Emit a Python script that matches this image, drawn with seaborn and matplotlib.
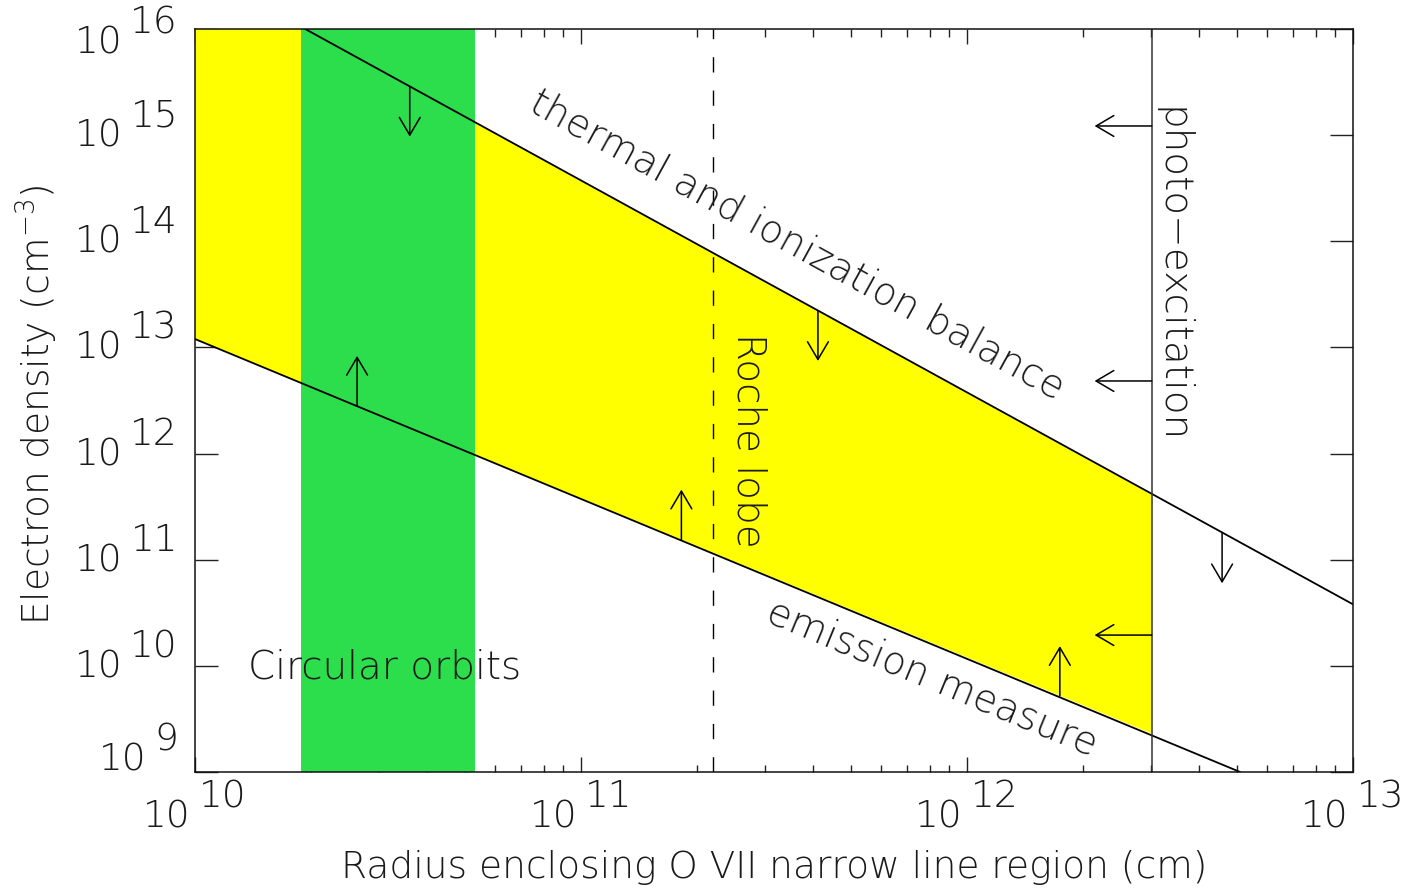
import numpy as np
import pandas as pd
import matplotlib
matplotlib.use("Agg")
import matplotlib.pyplot as plt
import seaborn as sns
from matplotlib.ticker import LogLocator, NullLocator, NullFormatter

# limits: radius (cm) vs electron density (cm^-3)
thermal_r = [1.93e10, 1e13]
thermal_n = [1e16, 3.8e10]
emission_r = [1e10, 5.1e12]
emission_n = [1.2e13, 1e9]

allowed_r = [1e10, 1.93e10, 3.01e12, 3.01e12, 1e10]
allowed_n = [1e16, 1e16, 4.1e11, 2.3e9, 1.2e13]

orbit_r = [1.88e10, 5.3e10]
roche_r = 2.2e11
photo_r = 3.01e12

down_r = [3.6e10, 4.11e11, 4.58e12]
down_n = [2.86e15, 2.2e13, 1.77e11]
up_r = [2.63e10, 1.82e11, 1.74e12]
up_n = [2.82e12, 1.55e11, 5.2e9]
left_n = [1.22e15, 4.83e12, 1.95e10]

x_exps = [10, 11, 12, 13]
y_exps = [9, 10, 11, 12, 13, 14, 15, 16]

sns.set_style("ticks")
plt.rcParams['font.family'] = ['DejaVu Sans']
plt.rcParams['font.weight'] = 'light'
plt.rcParams['mathtext.fontset'] = 'custom'
plt.rcParams['mathtext.default'] = 'regular'
txt = '#1a1a1a'

fig = plt.figure(figsize=(14.24, 8.95), dpi=100)
ax = fig.add_axes([195/1424, 1-773/895, (1353-195)/1424, (773-30)/895])
ax.set_xscale('log')
ax.set_yscale('log')
ax.set_xlim(1e10, 1e13)
ax.set_ylim(1e9, 1e16)

ax.fill(allowed_r, allowed_n, color='#ffff00', lw=0, zorder=1)
ax.axvspan(orbit_r[0], orbit_r[1], color='#2cdd4c', lw=0, zorder=2)

lines = pd.DataFrame({
    'r': thermal_r + emission_r,
    'n': thermal_n + emission_n,
    'limit': ['thermal'] * 2 + ['emission'] * 2,
})
sns.lineplot(data=lines, x='r', y='n', units='limit', estimator=None,
             color='black', lw=1.3, sort=False, ax=ax, zorder=4)
ax.set_xlabel('')
ax.set_ylabel('')

ax.axvline(roche_r, color='black', lw=1.0, ls=(0, (11, 13)), zorder=4)
ax.axvline(photo_r, color='#333333', lw=1.1, zorder=4)

arrow = dict(arrowstyle='->,head_length=0.85,head_width=0.5', lw=1.1,
             color='black', shrinkA=0, shrinkB=0, mutation_scale=15)
for r, n in zip(down_r, down_n):
    ax.annotate('', xy=(r, n / 10**0.47), xytext=(r, n), arrowprops=arrow, zorder=5)
for r, n in zip(up_r, up_n):
    ax.annotate('', xy=(r, n * 10**0.47), xytext=(r, n), arrowprops=arrow, zorder=5)
for n in left_n:
    ax.annotate('', xy=(photo_r / 10**0.148, n), xytext=(photo_r, n), arrowprops=arrow, zorder=5)

# labels along the limits
def slope_angle(r, n):
    p = ax.transData.transform(list(zip(r, n)))
    return np.degrees(np.arctan2(p[1, 1] - p[0, 1], p[1, 0] - p[0, 0]))

fs = 28
ax.text(10**11.56, 10**13.97, 'thermal and ionization balance', fontsize=fs,
        rotation=slope_angle(thermal_r, thermal_n), rotation_mode='anchor',
        ha='center', va='center', color=txt, zorder=6)
ax.text(10**11.909, 10**9.895, 'emission measure', fontsize=fs,
        rotation=slope_angle(emission_r, emission_n), rotation_mode='anchor',
        ha='center', va='center', color=txt, zorder=6)
ax.text(10**11.435, 10**12.137, 'Roche lobe', fontsize=fs, rotation=-90,
        ha='center', va='center', color=txt, zorder=6)
ax.text(10**12.53, 10**13.69, 'photo\u2212excitation', fontsize=fs, rotation=-90,
        ha='center', va='center', color=txt, zorder=6)
ax.text(10**10.49, 10**9.99, 'Circular orbits', fontsize=fs,
        ha='center', va='center', color=txt, zorder=6)

# ticks
ax.set_xticks([10.0**e for e in x_exps])
ax.set_yticks([10.0**e for e in y_exps])
ax.xaxis.set_minor_locator(LogLocator(base=10, subs=np.arange(2, 10), numticks=20))
ax.xaxis.set_minor_formatter(NullFormatter())
ax.yaxis.set_minor_locator(NullLocator())
ax.tick_params(axis='both', which='both', direction='in', top=True, right=True,
               labelbottom=False, labelleft=False, color='#222222', width=1.0)
ax.tick_params(axis='x', which='major', length=11)
ax.tick_params(axis='x', which='minor', length=5.4)
ax.tick_params(axis='y', which='major', length=16.5)
for s in ax.spines.values():
    s.set_linewidth(1.1)
    s.set_color('#111111')
    s.set_zorder(7)

fig.canvas.draw()
rend = fig.canvas.get_renderer()
tfs = 27
for e in y_exps:
    dy = -13 if e == 16 else (13 if e == 9 else 0)
    t = ax.annotate(str(e), xy=(0, 10.0**e), xycoords=('axes fraction', 'data'),
                    xytext=(-17, dy + 20), textcoords='offset pixels',
                    ha='right', va='center', fontsize=tfs, color=txt)
    w = t.get_window_extent(rend).width
    ax.annotate('10', xy=(0, 10.0**e), xycoords=('axes fraction', 'data'),
                xytext=(-17 - w - 8, dy), textcoords='offset pixels',
                ha='right', va='center', fontsize=tfs, color=txt)
for e in x_exps:
    b = ax.annotate('10', xy=(10.0**e, 0), xycoords=('data', 'axes fraction'),
                    xytext=(0, -44), textcoords='offset pixels',
                    ha='left', va='center', fontsize=tfs, color=txt)
    t = ax.annotate(str(e), xy=(10.0**e, 0), xycoords=('data', 'axes fraction'),
                    xytext=(0, -24), textcoords='offset pixels',
                    ha='left', va='center', fontsize=tfs, color=txt)
    wb = b.get_window_extent(rend).width
    wt = t.get_window_extent(rend).width
    left = -(wb + 8 + wt) / 2
    b.set_position((left, -44))
    t.set_position((left + wb + 8, -24))

fig.text(774/1424, 1 - 868/895, 'Radius enclosing O VII narrow line region (cm)',
         fontsize=27, ha='center', va='center', color=txt)
fig.text(37/1424, 1 - 405/895, 'Electron density (cm$^{-3}$)', rotation=90,
         fontsize=27, ha='center', va='center', color=txt)

fig.savefig('out.png', dpi=100)
